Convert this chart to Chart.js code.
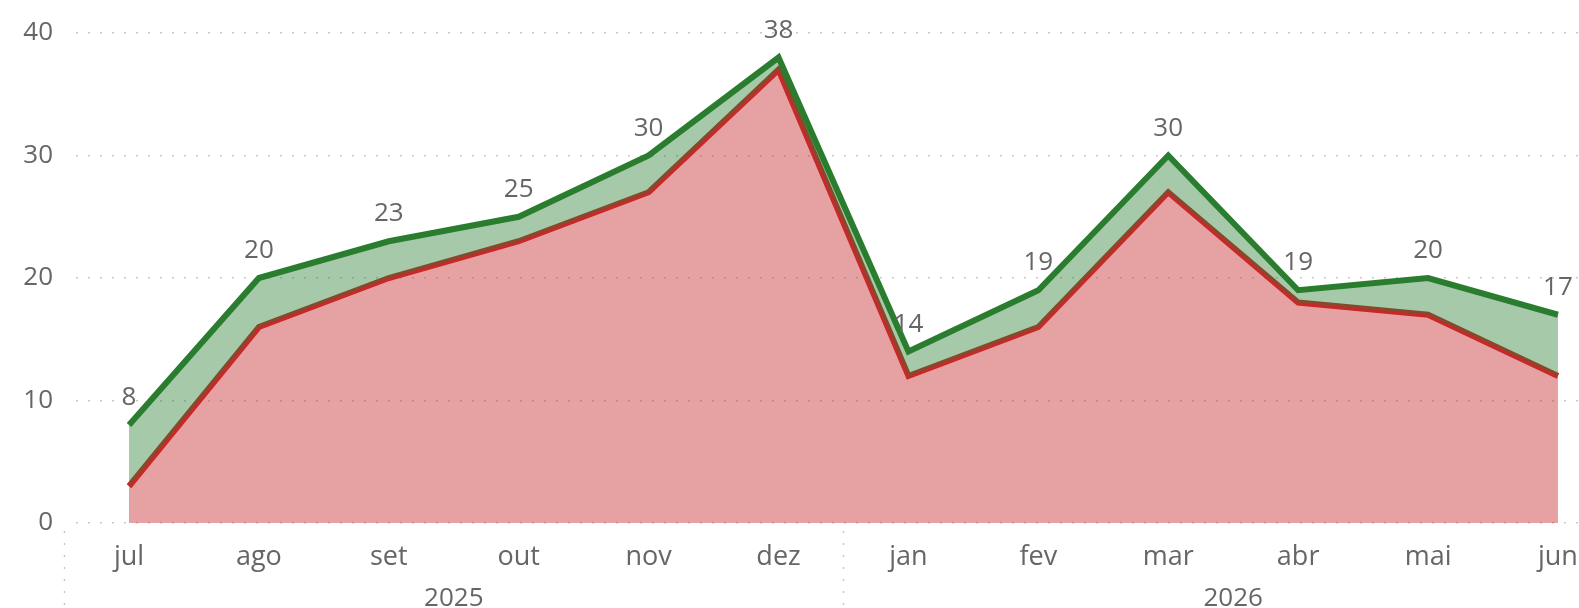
<!DOCTYPE html>
<html>
<head>
<meta charset="utf-8">
<script src="https://cdn.jsdelivr.net/npm/chart.js@4/dist/chart.umd.min.js"></script>
<style>
  html, body { margin: 0; padding: 0; background: #fff; overflow: hidden; }
</style>
</head>
<body>
<canvas id="chart" width="1579" height="608"></canvas>
<script>
const months = ["jul", "ago", "set", "out", "nov", "dez", "jan", "fev", "mar", "abr", "mai", "jun"];
const years = ["2025", "2026"];
const yearFirstMonth = [0, 6];
const totalValues = [8, 20, 23, 25, 30, 38, 14, 19, 30, 19, 20, 17];
const redValues = [3, 16, 20, 23, 27, 37, 12, 16, 27, 18, 17, 12];
const yTicks = [0, 10, 20, 30, 40];

const FONT = '"Segoe UI", "Open Sans", sans-serif';
const TEXT = "#666666";
const GRID = "#c8c8c8";

function toPoints(values) {
  return values.map((v, i) => ({ x: i, y: v }));
}

// value labels above the green line
const valueLabels = {
  id: "valueLabels",
  afterDatasetsDraw(chart) {
    const ctx = chart.ctx;
    const meta = chart.getDatasetMeta(0);
    ctx.save();
    ctx.font = "26px " + FONT;
    ctx.fillStyle = TEXT;
    ctx.textAlign = "center";
    ctx.textBaseline = "alphabetic";
    meta.data.forEach((pt, i) => {
      ctx.fillText(String(totalValues[i]), pt.x, pt.y - 20);
    });
    ctx.restore();
  }
};

// year row and dotted separators under the month axis
const yearAxis = {
  id: "yearAxis",
  afterDraw(chart) {
    const ctx = chart.ctx;
    const x = chart.scales.x;
    const area = chart.chartArea;
    ctx.save();
    ctx.strokeStyle = GRID;
    ctx.lineWidth = 1.5;
    ctx.setLineDash([2, 10]);
    yearFirstMonth.forEach((first) => {
      const px = Math.round(x.getPixelForValue(first - 0.5)) + 0.5;
      ctx.beginPath();
      ctx.moveTo(px, area.bottom + 8);
      ctx.lineTo(px, chart.height);
      ctx.stroke();
    });
    ctx.setLineDash([]);
    ctx.font = "26px " + FONT;
    ctx.fillStyle = TEXT;
    ctx.textAlign = "center";
    ctx.textBaseline = "alphabetic";
    years.forEach((label, i) => {
      const first = yearFirstMonth[i];
      const last = i + 1 < yearFirstMonth.length ? yearFirstMonth[i + 1] - 1 : months.length - 1;
      const cx = (x.getPixelForValue(first) + x.getPixelForValue(last)) / 2;
      ctx.fillText(label, cx, area.bottom + 83);
    });
    ctx.restore();
  }
};

new Chart(document.getElementById("chart"), {
  type: "line",
  data: {
    datasets: [
      {
        data: toPoints(totalValues),
        borderColor: "#2a7d2e",
        backgroundColor: "rgba(40,125,45,0.41)",
        borderWidth: 6,
        fill: 1,
        tension: 0,
        pointRadius: 0
      },
      {
        data: toPoints(redValues),
        borderColor: "#c8282a",
        backgroundColor: "rgba(198,40,40,0.43)",
        borderWidth: 6,
        fill: "origin",
        tension: 0,
        pointRadius: 0
      }
    ]
  },
  options: {
    responsive: false,
    animation: false,
    layout: { padding: { top: 33, left: 0, right: 0, bottom: 0 } },
    plugins: {
      legend: { display: false },
      tooltip: { enabled: false }
    },
    scales: {
      x: {
        type: "linear",
        min: -0.408,
        max: 11.162,
        afterBuildTicks(scale) {
          scale.ticks = months.map((m, i) => ({ value: i }));
        },
        afterFit(scale) {
          scale.height = 85;
          scale.paddingLeft = 0;
          scale.paddingRight = 0;
        },
        grid: { display: false },
        border: { display: false },
        ticks: {
          autoSkip: false,
          maxRotation: 0,
          padding: 10,
          color: TEXT,
          font: { family: FONT, size: 27 },
          callback: (v) => months[v]
        }
      },
      y: {
        min: 0,
        max: 40,
        afterBuildTicks(scale) {
          scale.ticks = yTicks.map((v) => ({ value: v }));
        },
        afterFit(scale) {
          scale.width = 76;
          scale.paddingTop = 0;
          scale.paddingBottom = 0;
        },
        grid: {
          color: GRID,
          lineWidth: 1.5,
          drawTicks: false
        },
        border: { display: false, dash: [2, 10] },
        ticks: {
          padding: 23,
          color: TEXT,
          font: { family: FONT, size: 26 }
        }
      }
    }
  },
  plugins: [valueLabels, yearAxis]
});
</script>
</body>
</html>
